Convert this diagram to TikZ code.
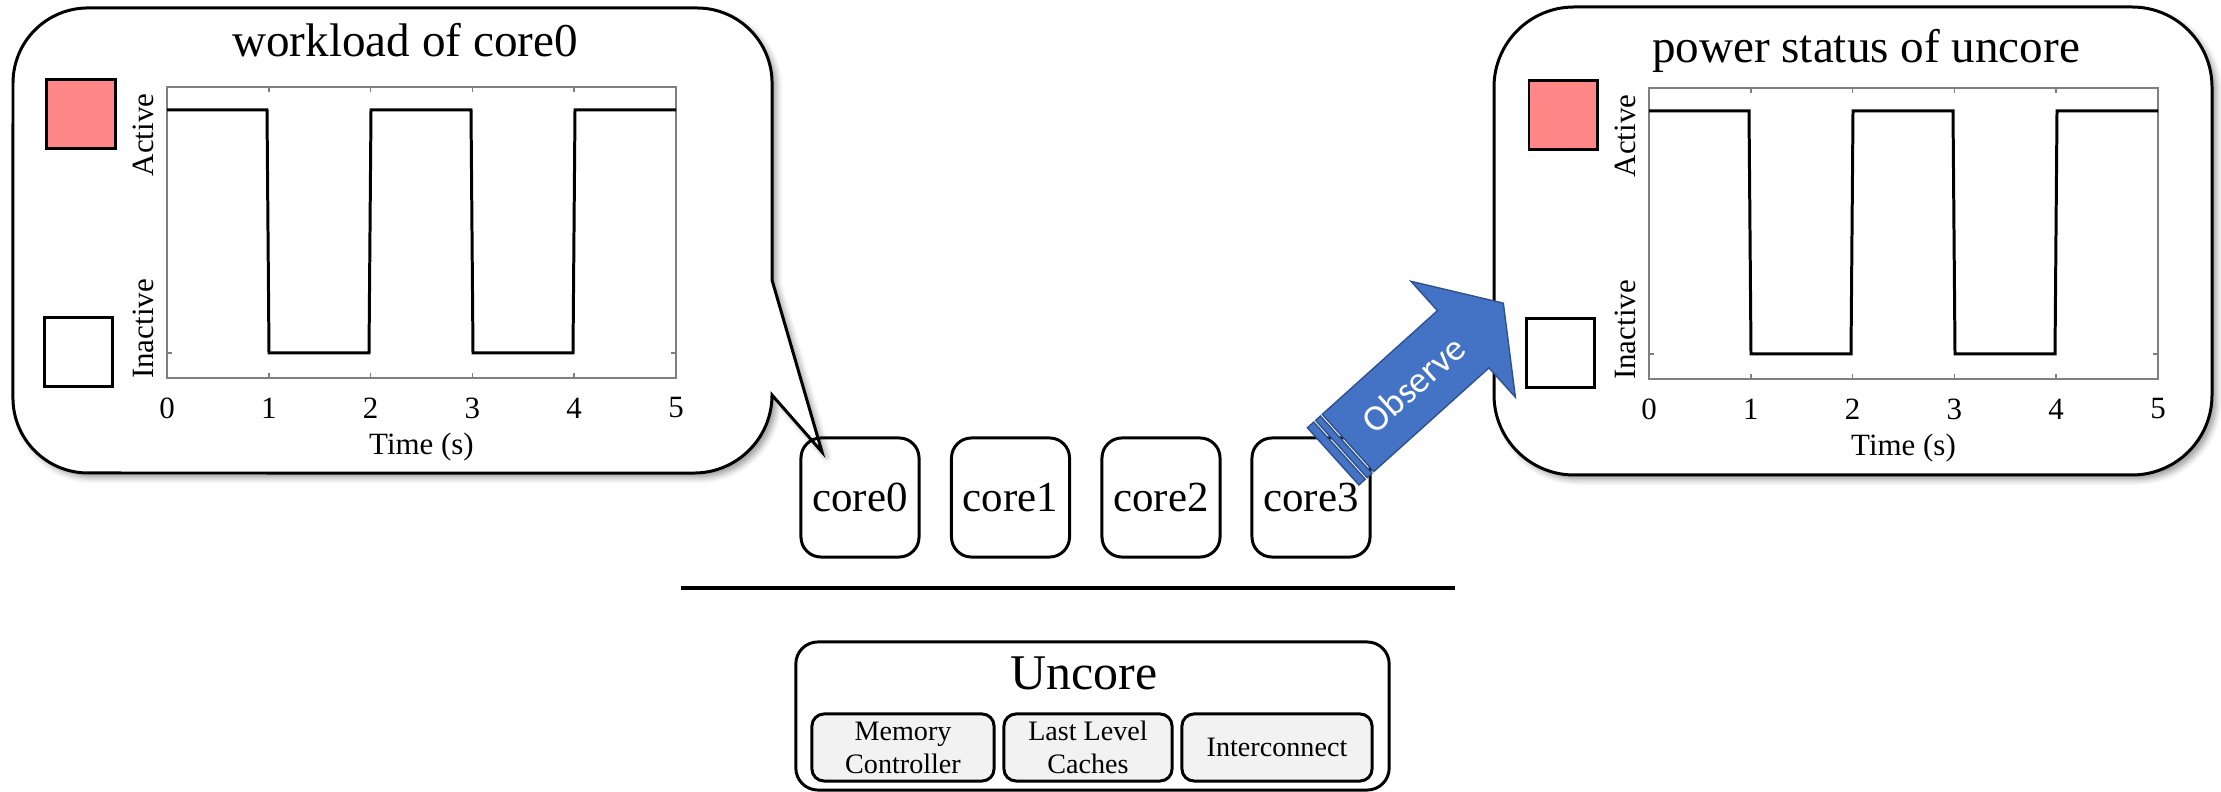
\documentclass[tikz,border=0pt]{standalone}
\usepackage{fontspec}
\setmainfont{Liberation Serif}
\newfontfamily\calibri{Carlito}
\usetikzlibrary{shadows.blur}
\definecolor{actred}{HTML}{FF8787}
\definecolor{arrowblue}{HTML}{4472C4}
\definecolor{arrowedge}{HTML}{2F528F}
\definecolor{boxgray}{HTML}{F2F2F2}
\definecolor{axisgray}{HTML}{7F7F7F}

\tikzset{
  outline/.style={draw=black, line width=0.85pt},
  bubble/.style={outline, fill=white,
    blur shadow={shadow xshift=0.45mm, shadow yshift=-0.45mm, shadow blur radius=0.6mm}},
  frame/.style={draw=axisgray, line width=0.45pt},
  signal/.style={draw=black, line width=0.85pt, line join=miter},
  ticklab/.style={inner sep=0pt, font=\fontsize{8.8}{10}\selectfont},
  titletext/.style={inner sep=0pt, font=\fontsize{13.4}{16}\selectfont},
  legendbox/.style={outline, minimum width=0.68cm, minimum height=0.68cm, inner sep=0pt},
  corebox/.style={outline, rounded corners=0.2cm, minimum width=1.18cm, minimum height=1.19cm,
    inner sep=0pt, font=\fontsize{12.2}{14}\selectfont},
  unitbox/.style={outline, fill=boxgray, rounded corners=0.12cm, minimum height=0.67cm,
    inner sep=0pt, align=center, font=\fontsize{8}{9.4}\selectfont},
  observe/.style={draw=arrowedge, line width=0.4pt, fill=arrowblue, line join=miter},
  obslabel/.style={text=white, inner sep=0pt, font=\calibri\fontsize{10.5}{12}\selectfont},
  plotpanel/.pic={
    % axes frame with inward ticks
    \draw[frame] (0,0) rectangle (509,291);
    \foreach \k in {1,...,4} {
      \draw[frame] ({101.8*\k},0) -- ({101.8*\k},5);
      \draw[frame] ({101.8*\k},291) -- ({101.8*\k},286);
    }
    \draw[frame] (0,266) -- (5,266);
    \draw[frame] (509,266) -- (504,266);
    % square wave: active / inactive every second
    \draw[signal] (0,23) -- (100,23) -- (102,266) -- (202,266) -- (204,23) -- (304,23)
      -- (306,266) -- (406,266) -- (408,23) -- (509,23);
    \foreach \k in {0,...,5}
      \node[ticklab] (-t\k) at ({101.8*\k},321) {\k};
    \node[ticklab] (-xlabel) at (254.5,360) {Time (s)};
    \node[ticklab, rotate=90] (-active) at (-24,48) {Active};
    \node[ticklab, rotate=90] (-inactive) at (-24,242) {Inactive};
    \node[legendbox, fill=actred] (-on) at (-86,27) {};
    \node[legendbox, fill=white] (-off) at (-88.5,265) {};
  }
}

\begin{document}
\begin{tikzpicture}[x=0.01cm, y=-0.01cm]
\useasboundingbox (0,0) rectangle (2221,792);

% speech bubble pointing at core0
\draw[bubble] (88,8) -- (697,8) arc[start angle=90, end angle=0, radius=0.75cm]
  -- (772,280) -- (822,452) -- (772,395)
  arc[start angle=0, end angle=-90, radius=0.78cm]
  -- (88,473) arc[start angle=-90, end angle=-180, radius=0.75cm]
  -- (13,83) arc[start angle=180, end angle=90, radius=0.75cm] -- cycle;
\node[titletext, anchor=base] (ltitle) at (405,57) {workload of core0};
\pic (L) at (167,87) {plotpanel};

% panel for the uncore
\draw[bubble, rounded corners=0.8cm] (1494,7) rectangle (2212,475);
\node[titletext, anchor=base] (rtitle) at (1866,63) {power status of uncore};
\pic (R) at (1649,88) {plotpanel};

% cores
\foreach \i/\x in {0/860,1/1010.5,2/1161,3/1311}
  \node[corebox] (core\i) at (\x,497.5) {core\i};

\draw[line width=1.1pt] (681,588) -- (1455,588);

% uncore block
\node[outline, rounded corners=0.22cm, minimum width=5.93cm, minimum height=1.48cm, inner sep=0pt]
  (uncore) at (1092.5,716) {};
\node[inner sep=0pt, anchor=base, font=\fontsize{14.2}{17}\selectfont] (uncoretitle) at (1084,690) {Uncore};
\node[unitbox, minimum width=1.82cm] (mc) at (903,747.5) {Memory\\Controller};
\node[unitbox, minimum width=1.68cm] (llc) at (1088,747.5) {Last Level\\Caches};
\node[unitbox, minimum width=1.90cm] (ic) at (1277,747.5) {Interconnect};

% striped block arrow from core3 to the uncore panel
\begin{scope}[shift={(1348,443)}, rotate=42]
  \draw[observe] (0,-38.5) -- (155,-38.5) -- (155,-78) -- (209,0) -- (155,78) -- (155,38.5)
    -- (0,38.5) -- cycle;
  \draw[observe] (-2.5,-38.5) rectangle (-9,38.5);
  \draw[observe] (-11.5,-38.5) rectangle (-20,38.5);
  \node[obslabel, rotate=42] (obs) at (88,0) {Observe};
\end{scope}
\end{tikzpicture}
\end{document}
